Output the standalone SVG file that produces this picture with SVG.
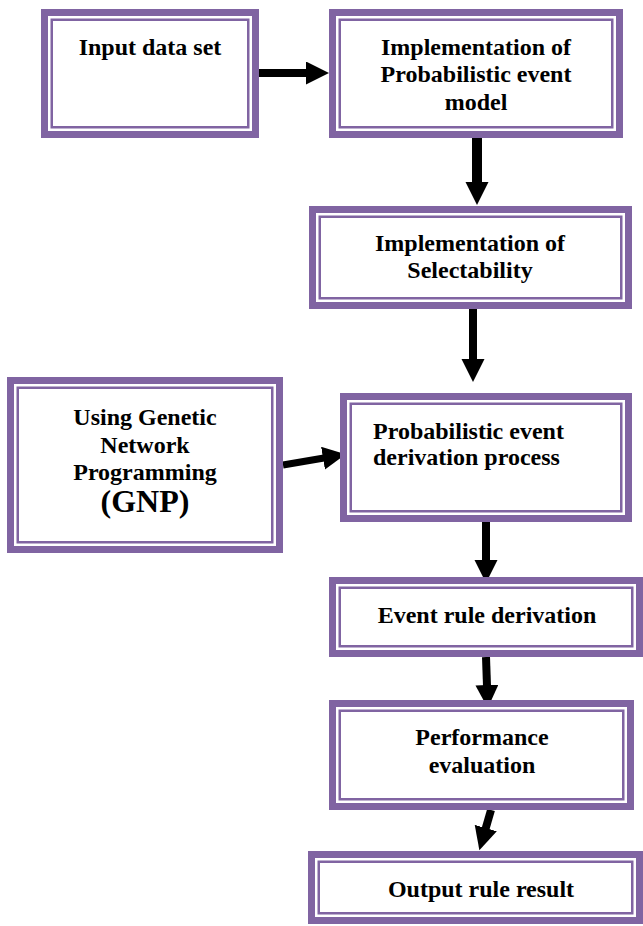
<svg xmlns="http://www.w3.org/2000/svg" width="643" height="926" viewBox="0 0 643 926">
<style>
.outer{fill:#ffffff;stroke:#8064A2;stroke-width:7}
.inner{fill:none;stroke:#8064A2;stroke-width:2.5}
.t{font-family:"Liberation Serif","Times New Roman",serif;font-weight:bold;font-size:24px;fill:#000;text-anchor:middle}
.big{font-size:32px}
.c{stroke:#000;fill:none;stroke-linecap:butt}
</style>
<defs>
<marker id="ah" markerUnits="userSpaceOnUse" markerWidth="26" markerHeight="24" refX="1" refY="11.5" orient="auto">
<path d="M0,0 L23,11.5 L0,23 z" fill="#000"/>
</marker>
</defs>
<rect width="643" height="926" fill="#fff"/>
<g id="connectors">
<line class="c" x1="259" y1="73" x2="307" y2="73" stroke-width="8" marker-end="url(#ah)"/>
<line class="c" x1="477" y1="138" x2="477" y2="183" stroke-width="10" marker-end="url(#ah)"/>
<line class="c" x1="473" y1="309" x2="473" y2="360" stroke-width="8" marker-end="url(#ah)"/>
<line class="c" x1="283" y1="465" x2="324" y2="458" stroke-width="7" marker-end="url(#ah)"/>
<line class="c" x1="486" y1="521" x2="486" y2="561" stroke-width="8" marker-end="url(#ah)"/>
<line class="c" x1="486" y1="657" x2="487" y2="686" stroke-width="8" marker-end="url(#ah)"/>
<line class="c" x1="491" y1="810" x2="485.5" y2="829" stroke-width="8" marker-end="url(#ah)"/>
</g>
<g id="input">
<rect class="outer" x="44.5" y="12.5" width="211" height="122"/>
<rect class="inner" x="51.75" y="19.75" width="196.5" height="107.5"/>
<text class="t" x="150" y="55">Input data set</text>
</g>
<g id="impl-prob">
<rect class="outer" x="332.5" y="12.5" width="287" height="122"/>
<rect class="inner" x="339.75" y="19.75" width="272.5" height="107.5"/>
<text class="t" x="476" y="55">Implementation of</text>
<text class="t" x="476" y="82">Probabilistic event</text>
<text class="t" x="476" y="110">model</text>
</g>
<g id="impl-sel">
<rect class="outer" x="312.5" y="209.5" width="316" height="96"/>
<rect class="inner" x="319.75" y="216.75" width="301.5" height="81.5"/>
<text class="t" x="470" y="251">Implementation of</text>
<text class="t" x="470" y="278">Selectability</text>
</g>
<g id="gnp">
<rect class="outer" x="10.5" y="380.5" width="269" height="169"/>
<rect class="inner" x="17.75" y="387.75" width="254.5" height="154.5"/>
<text class="t" x="145" y="425">Using Genetic</text>
<text class="t" x="145" y="453">Network</text>
<text class="t" x="145" y="480">Programming</text>
<text class="t big" x="145" y="512">(GNP)</text>
</g>
<g id="prob-deriv">
<rect class="outer" x="343.5" y="396.5" width="285" height="122"/>
<rect class="inner" x="350.75" y="403.75" width="270.5" height="107.5"/>
<text class="t" x="373" y="439" style="text-anchor:start">Probabilistic event</text>
<text class="t" x="373" y="465" style="text-anchor:start">derivation process</text>
</g>
<g id="event-rule">
<rect class="outer" x="332.5" y="580.5" width="307" height="73"/>
<rect class="inner" x="339.75" y="587.75" width="292.5" height="58.5"/>
<text class="t" x="487" y="623">Event rule derivation</text>
</g>
<g id="perf">
<rect class="outer" x="332.5" y="703.5" width="298" height="103"/>
<rect class="inner" x="339.75" y="710.75" width="283.5" height="88.5"/>
<text class="t" x="482" y="745">Performance</text>
<text class="t" x="482" y="773">evaluation</text>
</g>
<g id="output">
<rect class="outer" x="311.5" y="854.5" width="328" height="66"/>
<rect class="inner" x="318.75" y="861.75" width="313.5" height="51.5"/>
<text class="t" x="481" y="897">Output rule result</text>
</g>
</svg>
